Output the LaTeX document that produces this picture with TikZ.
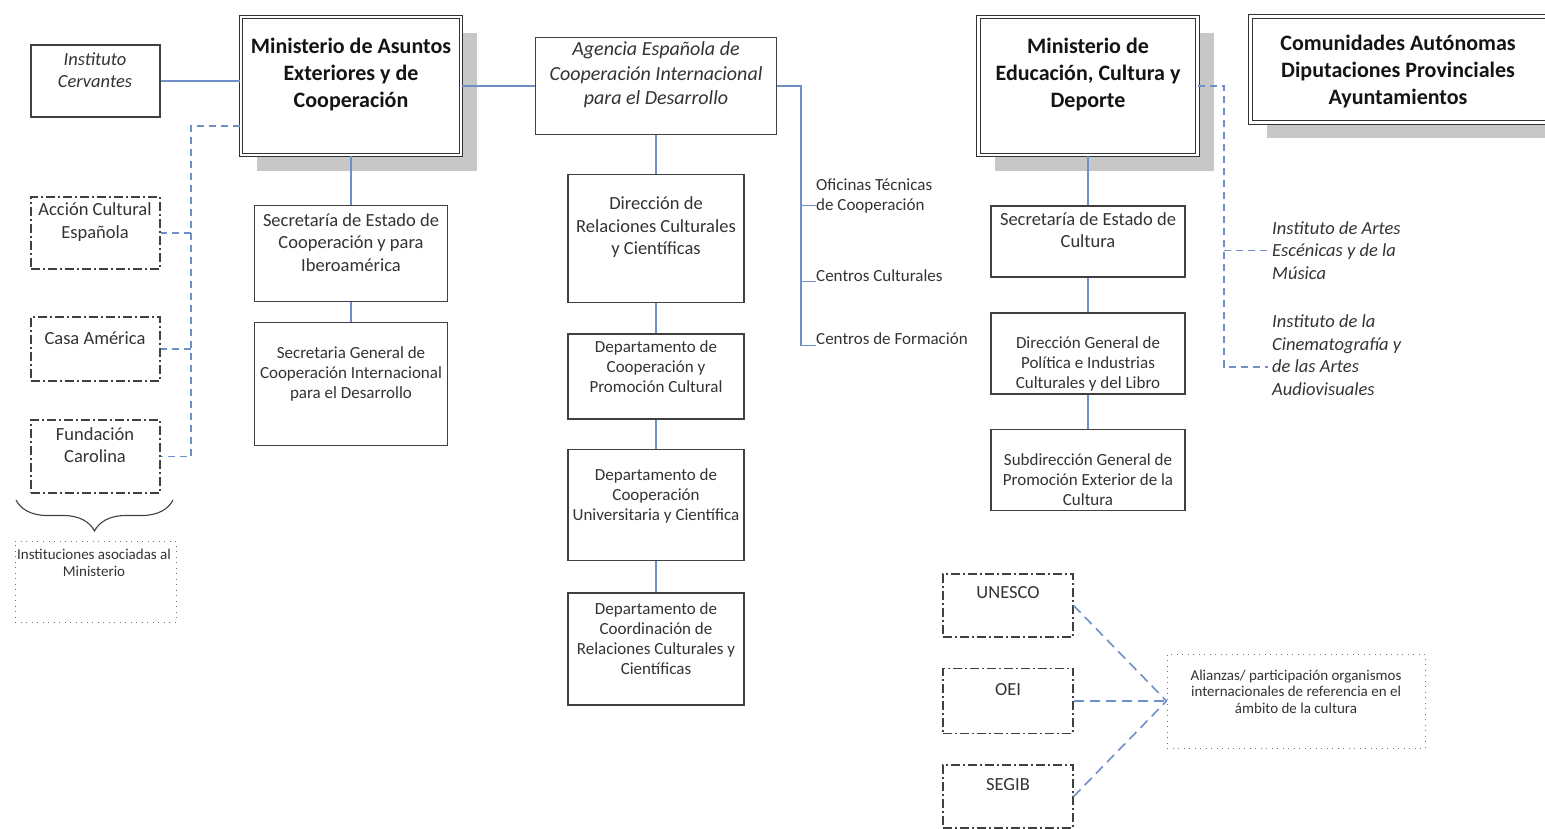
\documentclass[tikz,border=0pt]{standalone}
\usepackage{fontspec}
\setmainfont{Carlito}
\usetikzlibrary{shadows,decorations.pathreplacing}
\definecolor{linkblue}{RGB}{110,144,198}

\begin{document}
\begin{tikzpicture}[x=1pt, y=-1pt, every node/.style={inner sep=0pt, text=black!80},
    box/.style 2 args={draw=black!75, line width=1.3pt, fill=white, minimum width=#1, minimum height=#2},
    bigbox/.style 2 args={draw=black!80, line width=1.2pt, double=white, double distance=2.4pt, fill=white,
        minimum width=#1, minimum height=#2, drop shadow={shadow xshift=16pt, shadow yshift=-16pt, fill=black!22, opacity=1}},
    dashbox/.style 2 args={draw=black!75, line width=1.2pt, dash pattern=on 9pt off 3pt on 2pt off 3pt, minimum width=#1, minimum height=#2},
    dotbox/.style 2 args={draw=black!55, line width=1pt, dash pattern=on 1pt off 4.5pt, minimum width=#1, minimum height=#2},
    link/.style={draw=linkblue, line width=1.2pt},
    dlink/.style={draw=linkblue, line width=1.2pt, dash pattern=on 7pt off 5pt},
    alink/.style={draw=linkblue, line width=1.6pt, dash pattern=on 10pt off 6pt},
    hd/.style={font=\bfseries\fontsize{22}{27}\selectfont, align=center, text=black!92},
    itx/.style={font=\itshape\fontsize{20}{24.5}\selectfont, align=center},
    itl/.style={font=\itshape\fontsize{18.5}{22.5}\selectfont, align=left},
    tx/.style={font=\fontsize{18.5}{22.5}\selectfont, align=center},
    ts/.style={font=\fontsize{17}{20}\selectfont, align=center},
    tt/.style={font=\fontsize{15}{16.5}\selectfont, align=center}]
    \useasboundingbox (0,0) rectangle (1545,829);

    \node[box={129}{72}] (Cervantes) at (95.5,81) {};
    \node[itl, align=center] (Cervantest) at (95,70) {Instituto\\Cervantes};

    \node[bigbox={220}{138}] (MinAE) at (351,86) {};
    \node[hd] (MinAEt) at (351,74.5) {Ministerio de Asuntos\\Exteriores y de\\Cooperación};

    \node[box={241}{97}] (Aecid) at (656,86) {};
    \node[itx] (Aecidt) at (656,75) {Agencia Española de\\Cooperación Internacional\\para el Desarrollo};

    \node[box={193}{96}] (SecEC) at (351,253.5) {};
    \node[tx] (SecECt) at (351,242.5) {Secretaría de Estado de\\Cooperación y para\\Iberoamérica};
    \node[box={193}{122.5}] (SecGC) at (351,384) {};
    \node[ts] (SecGCt) at (351,374) {Secretaria General de\\Cooperación Internacional\\para el Desarrollo};

    \node[box={176}{128}] (DirRC) at (656,238.5) {};
    \node[tx] (DirRCt) at (656,227.5) {Dirección de\\Relaciones Culturales\\y Científicas};
    \node[box={176}{85}] (DepCP) at (656,376.5) {};
    \node[ts] (DepCPt) at (656,367) {Departamento de\\Cooperación y\\Promoción Cultural};
    \node[box={176}{111}] (DepCU) at (656,505) {};
    \node[ts] (DepCUt) at (656,495.5) {Departamento de\\Cooperación\\Universitaria y Científica};
    \node[box={176}{112}] (DepCR) at (656,649) {};
    \node[ts] (DepCRt) at (656,638.5) {Departamento de\\Coordinación de\\Relaciones Culturales y\\Científicas};

    \node[ts, align=left, anchor=west] (Oficinas) at (816,195.5) {Oficinas Técnicas\\de Cooperación};
    \node[ts, anchor=west] (Centros) at (816,275.5) {Centros Culturales};
    \node[ts, anchor=west] (Formacion) at (816,339) {Centros de Formación};

    \node[dashbox={129}{72}] (Accion) at (95.5,233) {};
    \node[tx] (Acciont) at (95,222) {Acción Cultural\\Española};
    \node[dashbox={129}{64}] (Casa) at (95.5,349) {};
    \node[tx] (Casat) at (95,338) {Casa América};
    \node[dashbox={129}{73}] (Carolina) at (95.5,456.5) {};
    \node[tx] (Carolinat) at (95,445) {Fundación\\Carolina};

    \coordinate (BraceL) at (16,500);
    \coordinate (BraceR) at (173,500);
    \draw[decorate, decoration={brace, amplitude=31pt, mirror}, line width=1.1pt, black!75] (BraceL) -- (BraceR);
    \node[dotbox={161}{81}] (Asociadas) at (95.5,581.5) {};
    \node[tt] (Asociadast) at (94,563) {Instituciones asociadas al\\Ministerio};

    \node[bigbox={219}{138}] (MinED) at (1088,86) {};
    \node[hd] (MinEDt) at (1088,74.5) {Ministerio de\\Educación, Cultura y\\Deporte};
    \node[bigbox={299}{106}] (Comunidades) at (1400,69.5) {};
    \node[hd] (Comunidadest) at (1398,71.8) {Comunidades Autónomas\\Diputaciones Provinciales\\Ayuntamientos};

    \node[box={194}{71}] (SecCu) at (1088,241.5) {};
    \node[tx] (SecCut) at (1088,230) {Secretaría de Estado de\\Cultura};
    \node[box={194}{81}] (DirGP) at (1088,353.5) {};
    \node[ts] (DirGPt) at (1088,364) {Dirección General de\\Política e Industrias\\Culturales y del Libro};
    \node[box={194}{80.5}] (SubGP) at (1088,470) {};
    \node[ts] (SubGPt) at (1088,480) {Subdirección General de\\Promoción Exterior de la\\Cultura};

    \node[itl, anchor=west] (Inaem) at (1272,250.5) {Instituto de Artes\\Escénicas y de la\\Música};
    \node[itl, anchor=west] (Icaa) at (1272,355) {Instituto de la\\Cinematografía y\\de las Artes\\Audiovisuales};

    \node[dashbox={130}{63}] (Unesco) at (1008,605.5) {};
    \node[tx] (Unescot) at (1008,592.5) {UNESCO};
    \node[dashbox={130}{64.5}] (Oei) at (1008,701) {};
    \node[tx] (Oeit) at (1008,689.5) {OEI};
    \node[dashbox={130}{63}] (Segib) at (1008,796.5) {};
    \node[tx] (Segibt) at (1008,784.5) {SEGIB};
    \node[dotbox={258}{94}] (Alianzas) at (1296,701) {};
    \node[tt] (Alianzast) at (1296,691.5) {Alianzas/ participación organismos\\internacionales de referencia en el\\ámbito de la cultura};

    \path[link] (Cervantes.east) edge (Cervantes.east -| MinAE.west);
    \path[link] (MinAE.east) edge (Aecid.west);
    \path[link] (MinAE.south) edge (SecEC.north);
    \path[link] (SecEC.south) edge (SecGC.north);
    \path[link] (Aecid.south) edge (DirRC.north);
    \path[link] (DirRC.south) edge (DepCP.north);
    \path[link] (DepCP.south) edge (DepCU.north);
    \path[link] (DepCU.south) edge (DepCR.north);

    \coordinate (AecBus) at (801,86);
    \coordinate (OficPt) at ([yshift=-10pt]Oficinas.west);
    \draw[link] (Aecid.east) -- (AecBus) |- (Formacion.south west);
    \draw[link] (AecBus |- OficPt) -- (OficPt);
    \draw[link] (AecBus |- Centros.south west) -- (Centros.south west);

    \coordinate (MaeBus) at (191,126);
    \draw[dlink] (MaeBus -| MinAE.west) -- (MaeBus) |- (Carolina.east);
    \draw[dlink] (MaeBus |- Accion.east) -- (Accion.east);
    \draw[dlink] (MaeBus |- Casa.east) -- (Casa.east);

    \path[link] (MinED.south) edge (SecCu.north);
    \path[link] (SecCu.south) edge (DirGP.north);
    \path[link] (DirGP.south) edge (SubGP.north);

    \coordinate (EduBus) at (1224,86);
    \coordinate (IcaaPt) at ([xshift=-4pt, yshift=-12pt]Icaa.west);
    \draw[dlink] (MinED.east) -- (EduBus) |- (IcaaPt);
    \draw[dlink] (EduBus |- Inaem.west) -- ([xshift=-4pt]Inaem.west);

    \path[alink] (Unesco.east) edge (Alianzas.west);
    \path[alink] (Oei.east) edge (Alianzas.west);
    \path[alink] (Segib.east) edge (Alianzas.west);
\end{tikzpicture}
\end{document}
